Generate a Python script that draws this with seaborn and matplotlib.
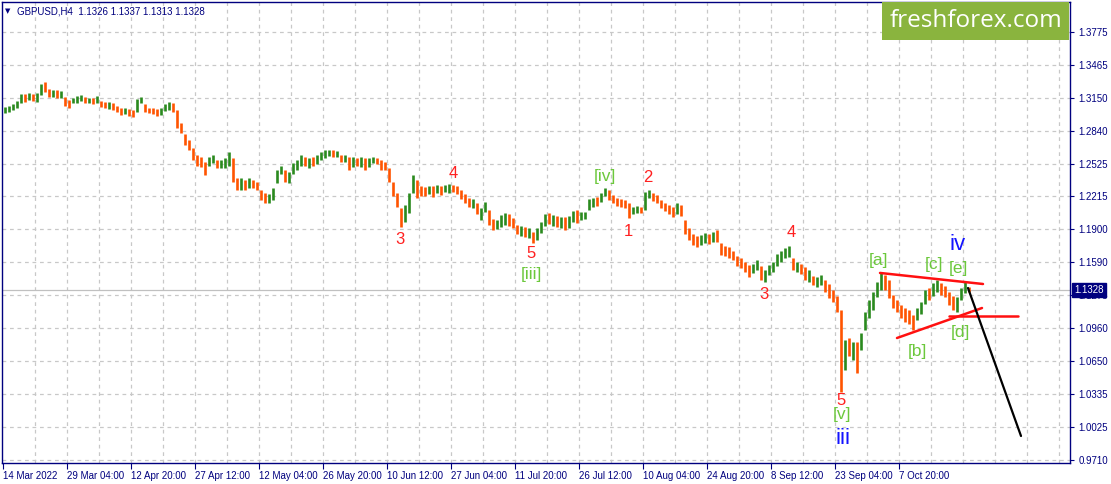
import matplotlib
matplotlib.use("Agg")
import matplotlib.pyplot as plt
import seaborn as sns
import numpy as np
import pandas as pd
from matplotlib.patches import Rectangle

# ---------------- data (GBPUSD, H4) ----------------
highs = [
    1.3064, 1.3073, 1.3092, 1.3121, 1.3187, 1.3187, 1.3197, 1.3187, 1.3197, 1.3282,
    1.3301, 1.3235, 1.3225, 1.3225, 1.3216, 1.3159, 1.3130, 1.3149, 1.3168, 1.3178,
    1.3159, 1.3149, 1.3149, 1.3168, 1.3121, 1.3111, 1.3111, 1.3102, 1.3073, 1.3054,
    1.3054, 1.3045, 1.3035, 1.3140, 1.3159, 1.3092, 1.3054, 1.3054, 1.3045, 1.3054,
    1.3092, 1.3111, 1.3102, 1.3035, 1.2912, 1.2807, 1.2750, 1.2674, 1.2608, 1.2589,
    1.2541, 1.2589, 1.2608, 1.2560, 1.2560, 1.2579, 1.2636, 1.2579, 1.2389, 1.2389,
    1.2370, 1.2389, 1.2370, 1.2351, 1.2275, 1.2247, 1.2237, 1.2294, 1.2465, 1.2503,
    1.2465, 1.2446, 1.2532, 1.2560, 1.2608, 1.2589, 1.2579, 1.2589, 1.2608, 1.2636,
    1.2655, 1.2655, 1.2655, 1.2646, 1.2608, 1.2608, 1.2589, 1.2589, 1.2579, 1.2589,
    1.2579, 1.2579, 1.2589, 1.2579, 1.2560, 1.2541, 1.2484, 1.2351, 1.2247, 1.2104,
    1.2133, 1.2247, 1.2418, 1.2370, 1.2313, 1.2304, 1.2313, 1.2313, 1.2323, 1.2313,
    1.2323, 1.2332, 1.2323, 1.2313, 1.2275, 1.2237, 1.2199, 1.2190, 1.2152, 1.2104,
    1.2161, 1.2085, 1.2000, 1.1990, 1.2038, 1.2057, 1.2047, 1.2009, 1.1943, 1.1933,
    1.1924, 1.1914, 1.1876, 1.1914, 1.1971, 1.2047, 1.2057, 1.2038, 1.2028, 1.2019,
    1.2019, 1.2028, 1.2076, 1.2085, 1.2066, 1.2066, 1.2190, 1.2199, 1.2209, 1.2247,
    1.2294, 1.2275, 1.2228, 1.2199, 1.2190, 1.2180, 1.2152, 1.2114, 1.2123, 1.2114,
    1.2256, 1.2275, 1.2247, 1.2228, 1.2180, 1.2152, 1.2133, 1.2114, 1.2152, 1.2133,
    1.1990, 1.1914, 1.1857, 1.1838, 1.1848, 1.1867, 1.1857, 1.1876, 1.1895, 1.1772,
    1.1743, 1.1734, 1.1696, 1.1648, 1.1629, 1.1591, 1.1563, 1.1572, 1.1610, 1.1553,
    1.1515, 1.1563, 1.1591, 1.1667, 1.1696, 1.1724, 1.1743, 1.1629, 1.1591, 1.1572,
    1.1544, 1.1515, 1.1458, 1.1449, 1.1468, 1.1420, 1.1382, 1.1325, 1.1268, 1.1135,
    1.0850, 1.0869, 1.0831, 1.0831, 1.0917, 1.1116, 1.1230, 1.1306, 1.1401, 1.1487,
    1.1468, 1.1420, 1.1278, 1.1230, 1.1183, 1.1154, 1.1135, 1.1088, 1.1154, 1.1211,
    1.1325, 1.1344, 1.1392, 1.1420, 1.1392, 1.1363, 1.1306, 1.1268, 1.1259, 1.1344,
    1.1401, 1.1354,
]
lows = [
    1.3007, 1.3016, 1.3035, 1.3054, 1.3102, 1.3111, 1.3130, 1.3121, 1.3111, 1.3178,
    1.3206, 1.3159, 1.3159, 1.3149, 1.3149, 1.3073, 1.3054, 1.3102, 1.3102, 1.3121,
    1.3102, 1.3102, 1.3092, 1.3102, 1.3064, 1.3054, 1.3045, 1.3035, 1.3016, 1.2988,
    1.2997, 1.2978, 1.2969, 1.3016, 1.3102, 1.3016, 1.3007, 1.2997, 1.2978, 1.2988,
    1.3026, 1.3035, 1.3016, 1.2864, 1.2817, 1.2703, 1.2655, 1.2560, 1.2503, 1.2494,
    1.2418, 1.2503, 1.2532, 1.2484, 1.2484, 1.2484, 1.2503, 1.2351, 1.2275, 1.2275,
    1.2275, 1.2294, 1.2294, 1.2275, 1.2180, 1.2152, 1.2152, 1.2180, 1.2342, 1.2427,
    1.2351, 1.2342, 1.2427, 1.2465, 1.2503, 1.2503, 1.2484, 1.2503, 1.2522, 1.2560,
    1.2579, 1.2598, 1.2589, 1.2589, 1.2541, 1.2541, 1.2465, 1.2494, 1.2503, 1.2494,
    1.2465, 1.2494, 1.2532, 1.2522, 1.2465, 1.2465, 1.2351, 1.2218, 1.2114, 1.1924,
    1.1971, 1.2057, 1.2247, 1.2199, 1.2218, 1.2218, 1.2237, 1.2209, 1.2247, 1.2228,
    1.2256, 1.2247, 1.2256, 1.2237, 1.2190, 1.2152, 1.2114, 1.2104, 1.2047, 1.1990,
    1.2066, 1.1943, 1.1895, 1.1905, 1.1924, 1.1943, 1.1933, 1.1914, 1.1857, 1.1838,
    1.1829, 1.1819, 1.1772, 1.1800, 1.1867, 1.1933, 1.1952, 1.1933, 1.1924, 1.1914,
    1.1895, 1.1914, 1.1971, 1.1962, 1.1990, 1.2000, 1.2085, 1.2114, 1.2123, 1.2161,
    1.2218, 1.2180, 1.2152, 1.2123, 1.2114, 1.2104, 1.2009, 1.2047, 1.2057, 1.2057,
    1.2085, 1.2199, 1.2171, 1.2152, 1.2104, 1.2076, 1.2047, 1.2019, 1.2047, 1.2028,
    1.1857, 1.1800, 1.1753, 1.1734, 1.1753, 1.1772, 1.1762, 1.1781, 1.1781, 1.1658,
    1.1648, 1.1629, 1.1610, 1.1553, 1.1534, 1.1496, 1.1449, 1.1487, 1.1515, 1.1420,
    1.1401, 1.1468, 1.1496, 1.1553, 1.1591, 1.1629, 1.1639, 1.1515, 1.1496, 1.1477,
    1.1420, 1.1401, 1.1373, 1.1354, 1.1373, 1.1306, 1.1249, 1.1211, 1.1116, 1.0356,
    1.0565, 1.0698, 1.0660, 1.0537, 1.0755, 1.0945, 1.1059, 1.1135, 1.1259, 1.1325,
    1.1325, 1.1249, 1.1154, 1.1116, 1.1059, 1.1021, 1.1002, 1.0945, 1.1040, 1.1097,
    1.1192, 1.1230, 1.1268, 1.1306, 1.1278, 1.1259, 1.1183, 1.1135, 1.1116, 1.1230,
    1.1297, 1.1306,
]
closes = [
    1.3035, 1.3054, 1.3073, 1.3102, 1.3159, 1.3140, 1.3168, 1.3149, 1.3178, 1.3263,
    1.3225, 1.3197, 1.3206, 1.3178, 1.3187, 1.3102, 1.3092, 1.3130, 1.3140, 1.3159,
    1.3121, 1.3130, 1.3121, 1.3140, 1.3092, 1.3073, 1.3092, 1.3064, 1.3035, 1.3016,
    1.3026, 1.3007, 1.2997, 1.3121, 1.3130, 1.3045, 1.3035, 1.3016, 1.3007, 1.3026,
    1.3073, 1.3092, 1.3045, 1.2893, 1.2845, 1.2750, 1.2693, 1.2589, 1.2560, 1.2541,
    1.2465, 1.2560, 1.2579, 1.2513, 1.2532, 1.2541, 1.2608, 1.2389, 1.2332, 1.2351,
    1.2332, 1.2351, 1.2332, 1.2304, 1.2218, 1.2190, 1.2209, 1.2266, 1.2446, 1.2475,
    1.2389, 1.2408, 1.2503, 1.2532, 1.2579, 1.2551, 1.2560, 1.2541, 1.2579, 1.2617,
    1.2627, 1.2636, 1.2617, 1.2627, 1.2579, 1.2589, 1.2503, 1.2560, 1.2541, 1.2570,
    1.2503, 1.2551, 1.2570, 1.2551, 1.2513, 1.2503, 1.2370, 1.2247, 1.2152, 1.1990,
    1.2104, 1.2209, 1.2351, 1.2313, 1.2275, 1.2256, 1.2285, 1.2275, 1.2294, 1.2266,
    1.2304, 1.2313, 1.2294, 1.2275, 1.2218, 1.2190, 1.2152, 1.2161, 1.2066, 1.2085,
    1.2133, 1.1971, 1.1943, 1.1962, 1.2009, 1.2028, 1.1971, 1.1943, 1.1895, 1.1914,
    1.1867, 1.1886, 1.1810, 1.1886, 1.1943, 1.2019, 1.2000, 1.2009, 1.1971, 1.1990,
    1.1952, 1.2000, 1.2047, 1.2028, 1.2038, 1.2057, 1.2161, 1.2180, 1.2171, 1.2228,
    1.2275, 1.2218, 1.2190, 1.2161, 1.2152, 1.2133, 1.2085, 1.2085, 1.2095, 1.2076,
    1.2228, 1.2247, 1.2218, 1.2199, 1.2133, 1.2114, 1.2076, 1.2066, 1.2114, 1.2066,
    1.1895, 1.1838, 1.1791, 1.1772, 1.1800, 1.1829, 1.1800, 1.1838, 1.1800, 1.1705,
    1.1686, 1.1658, 1.1639, 1.1591, 1.1572, 1.1534, 1.1496, 1.1544, 1.1582, 1.1458,
    1.1468, 1.1534, 1.1553, 1.1629, 1.1658, 1.1705, 1.1715, 1.1553, 1.1563, 1.1515,
    1.1458, 1.1468, 1.1411, 1.1420, 1.1430, 1.1344, 1.1306, 1.1249, 1.1154, 1.0423,
    1.0774, 1.0755, 1.0803, 1.0603, 1.0850, 1.1059, 1.1183, 1.1249, 1.1363, 1.1439,
    1.1382, 1.1287, 1.1211, 1.1173, 1.1116, 1.1078, 1.1040, 1.1002, 1.1116, 1.1173,
    1.1287, 1.1268, 1.1354, 1.1382, 1.1325, 1.1297, 1.1249, 1.1183, 1.1211, 1.1306,
    1.1335, 1.1328,
]

date_labels = ["14 Mar 2022", "29 Mar 04:00", "12 Apr 20:00", "27 Apr 12:00",
               "12 May 04:00", "26 May 20:00", "10 Jun 12:00", "27 Jun 04:00",
               "11 Jul 20:00", "26 Jul 12:00", "10 Aug 04:00", "24 Aug 20:00",
               "8 Sep 12:00", "23 Sep 04:00", "7 Oct 20:00"]
price_ticks = [0.9710, 1.0025, 1.0335, 1.0650, 1.0960, 1.1275, 1.1590, 1.1900,
               1.2215, 1.2525, 1.2840, 1.3150, 1.3465, 1.3775]
last_price = 1.1328
header = "GBPUSD,H4  1.1326 1.1337 1.1313 1.1328"

# wave markings (bar index, price)
upper_line_x = [219.25, 245.0]
upper_line_y = [1.1487, 1.1382]
lower_line_x = [223.5, 244.75]
lower_line_y = [1.0869, 1.1154]
level_line_x = [236.5, 253.75]
level_line_y = [1.1081, 1.1081]
forecast_x = [241.25, 254.5]
forecast_y = [1.1344, 0.9938]

wave_labels = [
    ("3", 99.25, 1.1800, "minor"), ("4", 112.5, 1.2427, "minor"),
    ("5", 132.0, 1.1667, "minor"), ("[iii]", 132.0, 1.1477, "minute"),
    ("[iv]", 150.5, 1.2408, "minute"), ("2", 161.25, 1.2389, "minor"),
    ("1", 156.25, 1.1876, "minor"), ("4", 197.0, 1.1867, "minor"),
    ("3", 190.25, 1.1278, "minor"), ("5", 209.5, 1.0271, "minor"),
    ("[v]", 209.75, 1.0147, "minute"), ("iii", 210.0, 0.9919, "minuette"),
    ("[a]", 219.0, 1.1601, "minute"), ("[b]", 228.5, 1.0736, "minute"),
    ("[c]", 232.75, 1.1563, "minute"), ("[e]", 238.75, 1.1534, "minute"),
    ("iv", 238.75, 1.1753, "minuette"), ("[d]", 239.25, 1.0917, "minute"),
]

# ---------------- styling ----------------
sns.set_theme(style="white")
plt.rcParams["font.family"] = ["Liberation Sans", "DejaVu Sans"]
NAVY = "#00007f"
UP = "#2a8a1e"
DOWN = "#ff5400"
GRID = "#c8c8c8"

W, H = 1111, 484
fig = plt.figure(figsize=(W / 100, H / 100), dpi=100)
fig.patch.set_facecolor("white")
ax = fig.add_axes([2 / W, 21 / H, 1068 / W, 461 / H])
ax.set_facecolor("white")

n = len(closes)
df = pd.DataFrame({"bar": np.arange(n) + 0.5, "high": highs, "low": lows, "close": closes})
df["open"] = df["close"].shift(1).fillna(df["close"])
df["color"] = np.where(df["close"] >= df["open"], UP, DOWN)

ax.set_xlim(-0.25, 266.75)
ax.set_ylim(0.96815, 1.4061)

# grid
for yv in price_ticks:
    ax.axhline(yv, color=GRID, lw=0.9, ls=(0, (3, 3)), zorder=0)
for xv in np.arange(8, 267, 8):
    ax.axvline(xv, color=GRID, lw=0.9, ls=(0, (3, 3)), zorder=0)

ax.axhline(last_price, color="#c0c0c0", lw=0.9, zorder=1)

# bars
ax.vlines(df["bar"], df["low"], df["high"], colors=df["color"], lw=1.9, zorder=3)

# wave lines
sns.lineplot(x=upper_line_x, y=upper_line_y, ax=ax, color="#ff1010", lw=1.8, zorder=5)
sns.lineplot(x=lower_line_x, y=lower_line_y, ax=ax, color="#ff1010", lw=1.8, zorder=5)
sns.lineplot(x=level_line_x, y=level_line_y, ax=ax, color="#ff1010", lw=1.8, zorder=5)
sns.lineplot(x=forecast_x, y=forecast_y, ax=ax, color="black", lw=1.6, zorder=5)

style = {
    "minor": dict(color="#ff2020", fontsize=12),
    "minute": dict(color="#6cc83c", fontsize=12.5),
    "minuette": dict(color="#1414ff", fontsize=16),
}
for txt, xv, yv, kind in wave_labels:
    ax.text(xv, yv, txt, ha="center", va="center", zorder=6, **style[kind])

# axes / ticks
ax.yaxis.tick_right()
ax.set_yticks(price_ticks)
ax.set_yticklabels([f"{v:.4f}" for v in price_ticks])
ax.set_xticks(np.arange(len(date_labels)) * 16)
ax.set_xticklabels(date_labels)
for lbl in ax.get_xticklabels():
    lbl.set_ha("left")
ax.tick_params(axis="y", which="both", right=True, left=False, length=3, width=0.8,
               color=NAVY, labelcolor=NAVY, labelsize=7, pad=3)
ax.tick_params(axis="x", bottom=True, length=4, width=0.8, color=NAVY,
               labelcolor=NAVY, labelsize=7, pad=2)
for s in ax.spines.values():
    s.set_color(NAVY)
    s.set_linewidth(1.0)

# current price box
ax.annotate(f"{last_price:.4f}", xy=(1.0, last_price), xycoords=("axes fraction", "data"),
            xytext=(3, 0), textcoords="offset points", ha="left", va="center",
            fontsize=7, color="white", zorder=10, annotation_clip=False,
            bbox=dict(boxstyle="square,pad=0.2", fc=NAVY, ec=NAVY))

# header
fig.text(8 / W, 1 - 11 / H, "\u25BC", fontsize=5, color=NAVY, ha="center", va="center",
         family="DejaVu Sans")
fig.text(17 / W, 1 - 11 / H, header, fontsize=7, color=NAVY, ha="left", va="center")

# logo
fig.patches.append(Rectangle((882 / W, 1 - 40 / H), (1069 - 882) / W, 38 / H,
                             transform=fig.transFigure, fc="#8ab43e", ec="none", zorder=20))
fig.text(976 / W, 1 - 21 / H, "freshforex.com", fontsize=17.5, color="white",
         ha="center", va="center", family="Open Sans", zorder=21)

fig.savefig("out.png", dpi=100)
